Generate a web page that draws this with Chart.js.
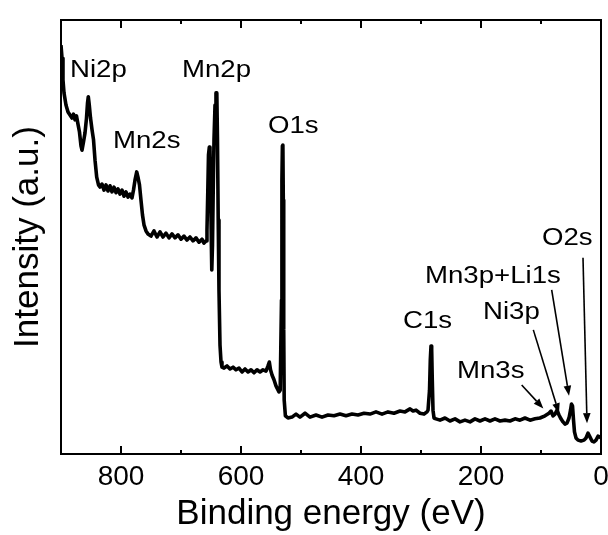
<!DOCTYPE html>
<html>
<head>
<meta charset="utf-8">
<script src="https://cdn.jsdelivr.net/npm/chart.js@4/dist/chart.umd.min.js"></script>
<style>
  html, body { margin: 0; padding: 0; background: #ffffff; }
  #wrap { width: 608px; height: 535px; }
</style>
</head>
<body>
<div id="wrap"><canvas id="c" width="608" height="535"></canvas></div>
<script>
// ---- data (binding energy in eV, intensity in arbitrary units) ----
const energy = [
  900, 898.3, 896.7, 895, 891.7, 888.3, 885, 881.7, 879.2, 876.7, 874.2, 871.7, 869.2, 866.7, 865,
  862.5, 860, 857.5, 855.8, 854.5, 853, 850.8, 848.3, 845.8, 843.3, 840.5, 837.5, 835,
  831.7, 828.3, 825, 821.7, 818.3, 815, 811.7, 808.3, 805, 801.7, 798.3, 795, 791.7, 788.3, 785, 781.7,
  779.2, 776.7, 773.8, 771.7, 769.2, 766.7, 764.2, 761.7, 758.3, 755,
  750, 745, 740, 735, 730, 725, 720, 715, 710, 705, 700, 695, 690, 685, 680, 675, 670, 665, 661.7, 658.3,
  656.7, 655.3, 654.2, 652.8, 651.7, 650.5, 649.5, 648.7, 647.5, 646.3, 645, 643.3, 641.7, 640.3,
  639.2, 638, 636.7, 635, 633.3, 631.7, 628.3,
  623.3, 618.3, 613.3, 608.3, 603.3, 598.3, 593.3, 588.3, 583.3, 578.3, 573.3, 568.3, 563.3, 558.3,
  555, 552.8, 550.8, 548.3, 545, 541.7, 539.2, 536.7, 534.7,
  532.5, 531.8, 531, 530.2, 529.5, 528.8, 528, 526, 521.7,
  515, 508.3, 501.7, 493.3, 485, 475, 465, 455, 445, 435, 425, 415, 405, 395, 385, 375, 365, 355, 345,
  335, 326.7, 318.3, 313.3, 308.3, 301.7, 295, 290,
  288.3, 285.8, 284.5, 283.3, 282.2, 281.2, 280, 278.3, 275,
  268.3, 260, 251.7, 243.3, 235, 226.7, 218.3, 210, 201.7, 193.3, 185, 176.7, 168.3, 160, 151.7, 143.3,
  135, 126.7, 118.3, 110, 101.7, 93.3,
  86.7, 83.3, 80, 76.7, 73.3, 70, 66.7, 63.3, 60, 56.7, 53.3, 50.8, 49.2, 47.5, 45.8, 44.2, 41.7,
  38.3, 33.3, 28.3, 25, 21.7, 18.3, 15, 11.7, 8.3, 5, 1.7, 0
];
const intensity = [
  94.2, 91.2, 86.2, 83.2, 80.4, 78.8, 78.1, 77.4, 78.3, 77.0, 77.9, 76.0, 74.2, 71.0, 70.0,
  71.9, 74.0, 77.4, 80.9, 82.3, 80.6, 77.4, 74.7, 72.4, 67.7, 63.8, 62.0, 61.5,
  62.2, 60.8, 62.0, 60.6, 61.8, 60.4, 61.5, 60.2, 61.1, 59.9, 60.8, 59.4, 60.4, 59.2, 59.9, 59.0,
  60.8, 63.1, 65.0, 63.8, 62.0, 58.5, 55.1, 52.8, 51.4, 50.7,
  50.2, 51.4, 50.0, 51.2, 50.0, 50.9, 49.8, 50.7, 49.8, 50.5, 49.5, 50.2, 49.3, 50.0, 49.1, 49.8, 48.8, 49.5, 48.6, 49.1,
  51.6, 60.8, 68.9, 70.7, 70.0, 60.8, 49.3, 42.4, 48.2, 60.8, 72.4, 80.4, 83.2, 83.2,
  72.4, 53.9, 37.8, 25.1, 21.2, 20.0, 19.8,
  20.3, 19.6, 20.0, 19.4, 19.8, 18.9, 19.6, 18.9, 19.4, 18.7, 19.4, 18.9, 19.4, 19.1,
  20.3, 21.2, 19.4, 18.2, 17.1, 15.7, 15.0, 14.3, 14.7,
  35.5, 63.1, 71.0, 71.2, 58.5, 28.6, 12.4, 8.8, 8.3,
  8.5, 9.2, 8.5, 9.4, 8.5, 9.0, 8.5, 9.0, 8.8, 9.2, 8.8, 9.2, 9.0, 9.4, 9.2, 9.7, 9.2, 9.7, 9.4,
  9.9, 9.7, 10.4, 9.9, 10.1, 9.4, 9.2, 9.7,
  10.1, 14.7, 21.7, 24.9, 24.0, 17.1, 10.1, 8.3, 8.1,
  7.8, 8.3, 7.6, 8.1, 7.4, 7.8, 7.4, 8.1, 7.6, 8.1, 7.6, 8.1, 7.6, 7.8, 7.6, 8.1,
  7.8, 8.3, 7.8, 8.1, 8.3, 8.8,
  9.4, 9.9, 8.8, 9.2, 10.1, 9.0, 8.1, 7.4, 6.9, 7.1, 8.3, 10.1, 11.5, 11.1, 7.8, 5.1, 3.7,
  3.2, 3.0, 3.2, 3.7, 4.8, 3.9, 3.0, 2.8, 3.2, 4.1, 3.9, 3.7
];
const xTickValues = [0, 200, 400, 600, 800];
const xMinorTickValues = [100, 300, 500, 700];

// peak labels (anchor = left end of text baseline, in data units)
const peakLabels = ['Ni2p', 'Mn2s', 'Mn2p', 'O1s', 'C1s', 'Mn3s', 'Ni3p', 'Mn3p+Li1s', 'O2s'];
const peakLabelX = [885, 813.3, 698.3, 555, 330, 240, 196.7, 293.3, 98.3];
const peakLabelY = [86.9, 70.5, 86.9, 74.0, 29.0, 17.5, 31.1, 39.4, 48.2];

// arrows (from -> to, data units)
const arrowFromX = [132.2, 112.8, 82.2, 30];
const arrowFromY = [15.9, 28.6, 37.8, 45.2];
const arrowToX = [96.1, 70, 53.3, 23.3];
const arrowToY = [10.5, 9.4, 13.4, 7.1];

const points = energy.map((e, i) => ({ x: e, y: intensity[i] }));

const FONT = '"Liberation Sans", Arial, Helvetica, sans-serif';

const framePlugin = {
  id: 'framePlugin',
  beforeDraw(chart) {
    const ctx = chart.ctx;
    ctx.save();
    ctx.fillStyle = '#ffffff';
    ctx.fillRect(0, 0, chart.width, chart.height);
    ctx.restore();
  },
  afterDraw(chart) {
    const ctx = chart.ctx;
    const a = chart.chartArea;
    const xs = chart.scales.x, ys = chart.scales.y;
    ctx.save();
    ctx.strokeStyle = '#000';
    ctx.lineWidth = 2;
    ctx.strokeRect(a.left, a.top, a.right - a.left, a.bottom - a.top);
    // inward ticks, bottom and top
    const drawTick = (v, len) => {
      const px = Math.round(xs.getPixelForValue(v));
      ctx.beginPath();
      ctx.moveTo(px, a.bottom); ctx.lineTo(px, a.bottom - len);
      ctx.moveTo(px, a.top); ctx.lineTo(px, a.top + len);
      ctx.stroke();
    };
    xTickValues.forEach(v => drawTick(v, 8));
    xMinorTickValues.forEach(v => drawTick(v, 4));

    // peak labels
    ctx.fillStyle = '#000';
    ctx.font = '23px ' + FONT;
    ctx.textAlign = 'left';
    ctx.textBaseline = 'alphabetic';
    peakLabels.forEach((t, i) => {
      const px = xs.getPixelForValue(peakLabelX[i]);
      const py = ys.getPixelForValue(peakLabelY[i]);
      ctx.save();
      ctx.translate(px, py);
      ctx.scale(1.2, 1);
      ctx.fillText(t, 0, 0);
      ctx.restore();
    });

    // arrows
    ctx.lineWidth = 1.6;
    arrowFromX.forEach((fx, i) => {
      const x1 = xs.getPixelForValue(fx), y1 = ys.getPixelForValue(arrowFromY[i]);
      const x2 = xs.getPixelForValue(arrowToX[i]), y2 = ys.getPixelForValue(arrowToY[i]);
      const ang = Math.atan2(y2 - y1, x2 - x1);
      const hl = 10, hw = 3.8;
      const bx = x2 - hl * Math.cos(ang), by = y2 - hl * Math.sin(ang);
      ctx.beginPath();
      ctx.moveTo(x1, y1); ctx.lineTo(bx, by);
      ctx.stroke();
      ctx.beginPath();
      ctx.moveTo(x2, y2);
      ctx.lineTo(bx + hw * Math.sin(ang), by - hw * Math.cos(ang));
      ctx.lineTo(bx - hw * Math.sin(ang), by + hw * Math.cos(ang));
      ctx.closePath();
      ctx.fill();
    });
    ctx.restore();
  }
};

new Chart(document.getElementById('c'), {
  type: 'line',
  data: {
    datasets: [{
      label: 'XPS survey',
      data: points,
      borderColor: '#000',
      borderWidth: 3.6,
      pointRadius: 0,
      tension: 0,
      fill: false,
      borderJoinStyle: 'round'
    }]
  },
  options: {
    responsive: false,
    animation: false,
    devicePixelRatio: 1,
    layout: { padding: { left: 0, right: 7, top: 20, bottom: 0 } },
    plugins: { legend: { display: false }, tooltip: { enabled: false } },
    scales: {
      x: {
        type: 'linear',
        reverse: true,
        min: 0,
        max: 900,
        afterBuildTicks: (s) => { s.ticks = xTickValues.map(v => ({ value: v })); },
        afterFit: (s) => { s.height = 81; },
        grid: { display: false, drawTicks: false },
        border: { display: true, color: '#000', width: 2 },
        ticks: { color: '#000', font: { family: FONT, size: 28 }, padding: 6, maxRotation: 0 },
        title: { display: true, text: 'Binding energy (eV)', color: '#000', font: { family: FONT, size: 35 }, padding: 0 }
      },
      y: {
        type: 'linear',
        min: 0,
        max: 100,
        afterFit: (s) => { s.width = 61; },
        grid: { display: false, drawTicks: false },
        border: { display: true, color: '#000', width: 2 },
        ticks: { display: false },
        title: { display: true, text: 'Intensity (a.u.)', color: '#000', font: { family: FONT, size: 35 }, padding: { top: 7, bottom: 0 } }
      }
    }
  },
  plugins: [framePlugin]
});
</script>
</body>
</html>
